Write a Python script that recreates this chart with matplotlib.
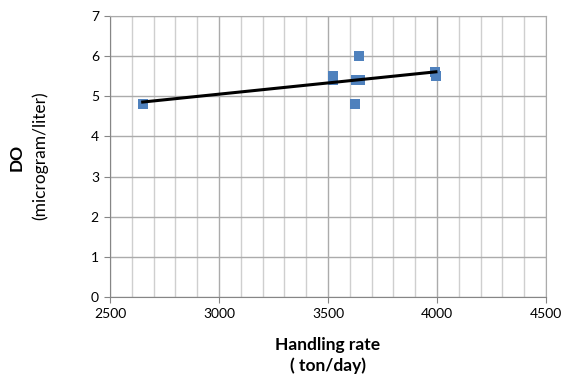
import matplotlib.pyplot as plt
import numpy as np
from matplotlib.ticker import MultipleLocator

plt.rcParams['font.family'] = ['Lato', 'DejaVu Sans']

# data
handling_rate = [2650, 3525, 3525, 3640, 3630, 3648, 3625, 3990, 3995]
do_values = [4.8, 5.5, 5.4, 6.0, 5.4, 5.4, 4.8, 5.6, 5.5]

x = np.array(handling_rate)
y = np.array(do_values)

fig = plt.figure(figsize=(5.64, 3.76), dpi=100)
ax = fig.add_axes([110/564, 79/376, 436/564, 281/376])

ax.set_xlim(2500, 4500)
ax.set_ylim(0, 7)
ax.xaxis.set_major_locator(MultipleLocator(500))
ax.xaxis.set_minor_locator(MultipleLocator(100))
ax.yaxis.set_major_locator(MultipleLocator(1))

ax.grid(which='major', color='#ababab', linewidth=1.0)
ax.grid(which='minor', axis='x', color='#cfcfcf', linewidth=1.0)
ax.set_axisbelow(True)

for s in ['top', 'right']:
    ax.spines[s].set_color('#ababab')
for s in ['left', 'bottom']:
    ax.spines[s].set_color('#868686')

ax.tick_params(which='major', length=4, color='#868686', labelsize=10, pad=4)
ax.tick_params(which='minor', length=0)

ax.scatter(x, y, marker='s', s=60, color='#4f81bd', zorder=3, linewidths=0)

# linear trendline
k, b = np.polyfit(x, y, 1)
xx = np.array([x.min(), x.max()])
ax.plot(xx, k * xx + b, color='black', linewidth=2.2, zorder=4)

fig.text(17/564, 1 - 157/376, 'DO', rotation=90, ha='center', va='center',
         fontsize=12.5, fontweight='bold')
fig.text(40/564, 1 - 156/376, '(microgram/liter)', rotation=90, ha='center', va='center',
         fontsize=12.5)
fig.text(328/564, 1 - 345/376, 'Handling rate', ha='center', va='center',
         fontsize=12.5, fontweight='bold')
fig.text(328/564, 1 - 366/376, '( ton/day)', ha='center', va='center',
         fontsize=12.5, fontweight='bold')

fig.savefig('out.png', dpi=100)
